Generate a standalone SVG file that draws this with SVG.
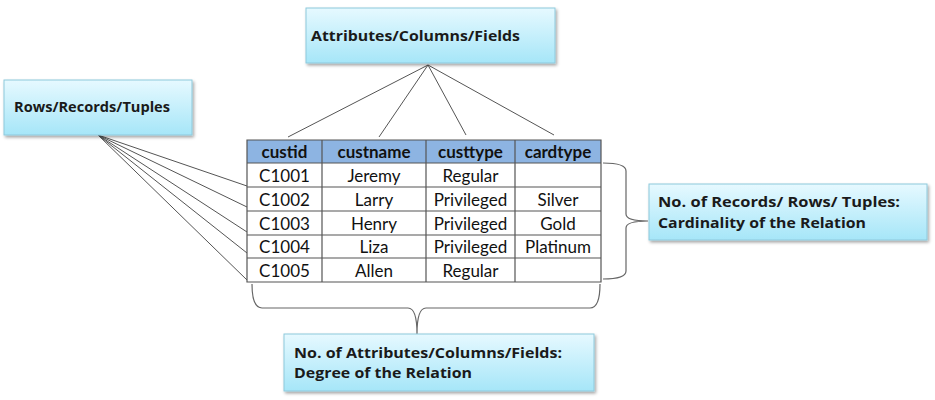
<svg xmlns="http://www.w3.org/2000/svg" width="935" height="400" viewBox="0 0 935 400">
<defs>
<linearGradient id="g" x1="0" y1="0" x2="0" y2="1">
<stop offset="0" stop-color="#e6f9ff"/>
<stop offset="1" stop-color="#a6e6f8"/>
</linearGradient>
<filter id="sh" x="-10%" y="-10%" width="130%" height="140%">
<feDropShadow dx="1.5" dy="2" stdDeviation="1.5" flood-color="#000" flood-opacity="0.35"/>
</filter>
<style>
.box{fill:url(#g);stroke:#8ec9dc;stroke-width:1;filter:url(#sh)}
.lbl{font-family:"Open Sans","Liberation Sans",sans-serif;font-weight:bold;font-size:15px;fill:#1a1a1a}
.hd{font-family:Lato,"Liberation Sans",sans-serif;font-weight:bold;font-size:17px;fill:#111;text-anchor:middle}
.td{font-family:Lato,"Liberation Sans",sans-serif;font-size:17px;fill:#111;text-anchor:middle}
.ln{stroke:#555;stroke-width:1;fill:none}
.br{stroke:#666;stroke-width:1.2;fill:none}
.grid{stroke:#555;stroke-width:1.2;fill:none}
</style>
</defs>
<g id="connectors">
<path class="ln" d="M428 65 L288 137 M428 65 L379 137 M428 65 L466 135 M428 65 L554 135"/>
<path class="ln" d="M98 135 L247 186 M98 135 L247 207 M98 135 L247 232 M98 135 L247 253 M98 135 L247 280"/>
<path class="br" d="M603 163 Q626 163 626 171 L626 214 Q626 221 648 221 Q626 221 626 228 L626 271 Q626 279 603 279"/>
<path class="br" d="M252 284 Q252 308 262 308 L408 308 Q417 308 417 334 Q417 308 426 308 L590 308 Q600 308 600 284"/>
</g>
<g id="attributes-box">
<rect class="box" x="306" y="8" width="249" height="55"/>
<text class="lbl" x="311" y="41" textLength="209" lengthAdjust="spacingAndGlyphs">Attributes/Columns/Fields</text>
</g>
<g id="rows-box">
<rect class="box" x="4" y="80" width="188" height="55"/>
<text class="lbl" x="14" y="112" textLength="156" lengthAdjust="spacingAndGlyphs">Rows/Records/Tuples</text>
</g>
<g id="table">
<rect x="247" y="140" width="354" height="23" fill="#8db4e2"/>
<path class="grid" d="M247 140 H601 V282 H247 Z M247 163 H601 M247 187 H601 M247 211 H601 M247 235 H601 M247 258 H601 M322 140 V282 M426 140 V282 M515 140 V282"/>
<text class="hd" x="284.5" y="158">custid</text>
<text class="hd" x="374" y="158">custname</text>
<text class="hd" x="470.5" y="158">custtype</text>
<text class="hd" x="558" y="158">cardtype</text>
<text class="td" x="284.5" y="182">C1001</text>
<text class="td" x="374" y="182">Jeremy</text>
<text class="td" x="470.5" y="182">Regular</text>
<text class="td" x="284.5" y="206">C1002</text>
<text class="td" x="374" y="206">Larry</text>
<text class="td" x="470.5" y="206">Privileged</text>
<text class="td" x="558" y="206">Silver</text>
<text class="td" x="284.5" y="230">C1003</text>
<text class="td" x="374" y="230">Henry</text>
<text class="td" x="470.5" y="230">Privileged</text>
<text class="td" x="558" y="230">Gold</text>
<text class="td" x="284.5" y="253">C1004</text>
<text class="td" x="374" y="253">Liza</text>
<text class="td" x="470.5" y="253">Privileged</text>
<text class="td" x="558" y="253">Platinum</text>
<text class="td" x="284.5" y="277">C1005</text>
<text class="td" x="374" y="277">Allen</text>
<text class="td" x="470.5" y="277">Regular</text>
</g>
<g id="cardinality-box">
<rect class="box" x="649" y="184" width="278" height="56"/>
<text class="lbl" x="658" y="207" textLength="242" lengthAdjust="spacingAndGlyphs">No. of Records/  Rows/ Tuples:</text>
<text class="lbl" x="658" y="228" textLength="208" lengthAdjust="spacingAndGlyphs">Cardinality  of the Relation</text>
</g>
<g id="degree-box">
<rect class="box" x="284" y="334" width="310" height="57"/>
<text class="lbl" x="294" y="358" textLength="268" lengthAdjust="spacingAndGlyphs">No. of Attributes/Columns/Fields:</text>
<text class="lbl" x="294" y="378" textLength="178" lengthAdjust="spacingAndGlyphs">Degree of the Relation</text>
</g>
</svg>
